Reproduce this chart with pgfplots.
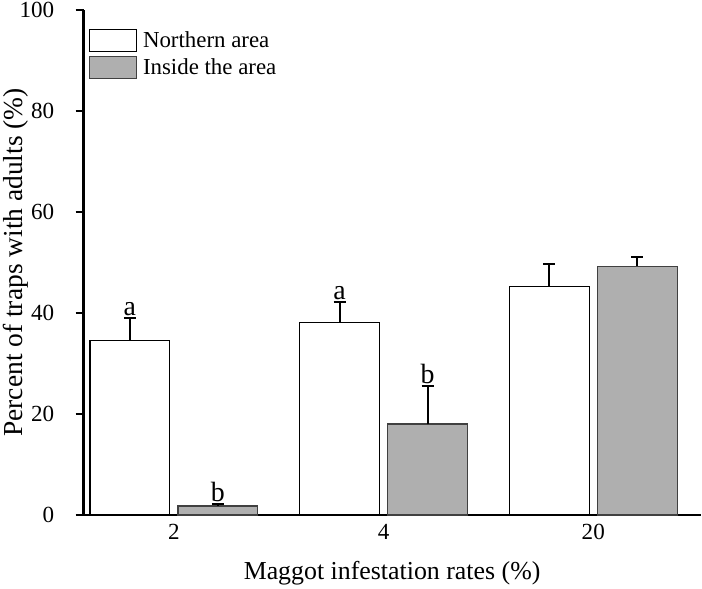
\documentclass[border=0pt]{standalone}
\usepackage{fontspec}
\setmainfont{Liberation Serif}
\usepackage{pgfplots}
\pgfplotsset{compat=1.18}
\definecolor{barg}{RGB}{175,175,175}
\begin{document}
\begin{tikzpicture}
\begin{axis}[
  scale only axis,
  width=309bp, height=253bp,
  xmin=-0.431, xmax=2.512,
  ymin=0, ymax=100,
  axis x line=bottom, axis y line=left,
  axis line style={-, line width=1.4bp},
  xtick={0,1,2}, xticklabels={2,4,20},
  x tick style={draw=none},
  ytick={0,20,40,60,80,100},
  y tick style={line width=1.2bp, black},
  tick align=outside, major tick length=4bp,
  /pgf/number format/assume math mode=true,
  tick label style={font=\fontsize{11.6}{12}\selectfont},
  xticklabel style={yshift=3bp},
  yticklabel style={inner sep=1bp, xshift=-9.5bp},
  xlabel={Maggot infestation rates (\%)},
  ylabel={Percent of traps with adults (\%)},
  xlabel style={font=\fontsize{13}{15}\selectfont, inner sep=1.5bp, yshift=-6bp},
  ylabel style={font=\fontsize{13.8}{15}\selectfont, inner sep=1.5bp},
  ylabel shift=-7bp,
  ybar, bar width=0.381,
  legend image code/.code={\draw[#1] (0bp,-5.5bp) rectangle (23.5bp,5.5bp);},
  legend style={draw=none, fill=none, at={(0.008,0.964)}, anchor=north west,
    inner sep=0pt, row sep=1bp, font=\fontsize{11.5}{13}\selectfont,
    nodes={inner sep=1.5bp}},
  legend cell align=left,
  clip=false,
]
\addplot+[bar shift=-0.21, fill=white, draw=black, line width=0.6bp,
  error bars/.cd, y dir=plus, y explicit,
  error bar style={line width=1bp, black},
  error mark options={rotate=90, mark size=3bp, line width=1bp, black}]
  coordinates {(0,34.5) +- (0,4.4) (1,38.1) +- (0,4.0) (2,45.2) +- (0,4.5)};
\addlegendentry{\hspace{1.5bp}Northern area}
\addplot+[bar shift=0.21, fill=barg, draw=black!75, line width=0.6bp,
  error bars/.cd, y dir=plus, y explicit,
  error bar style={line width=1bp, black},
  error mark options={rotate=90, mark size=3bp, line width=1bp, black}]
  coordinates {(0,1.8) +- (0,0.4) (1,18.0) +- (0,7.6) (2,49.2) +- (0,1.9)};
\addlegendentry{\hspace{1.5bp}Inside the area}
\node[anchor=south, inner sep=1bp, font=\fontsize{14}{15}\selectfont] at (axis cs:-0.21,38.9) {a};
\node[anchor=south, inner sep=1bp, font=\fontsize{14}{15}\selectfont] at (axis cs:0.21,2.2) {b};
\node[anchor=south, inner sep=1bp, font=\fontsize{14}{15}\selectfont] at (axis cs:0.79,42.1) {a};
\node[anchor=south, inner sep=1bp, font=\fontsize{14}{15}\selectfont] at (axis cs:1.21,25.6) {b};
\end{axis}
\end{tikzpicture}
\end{document}
